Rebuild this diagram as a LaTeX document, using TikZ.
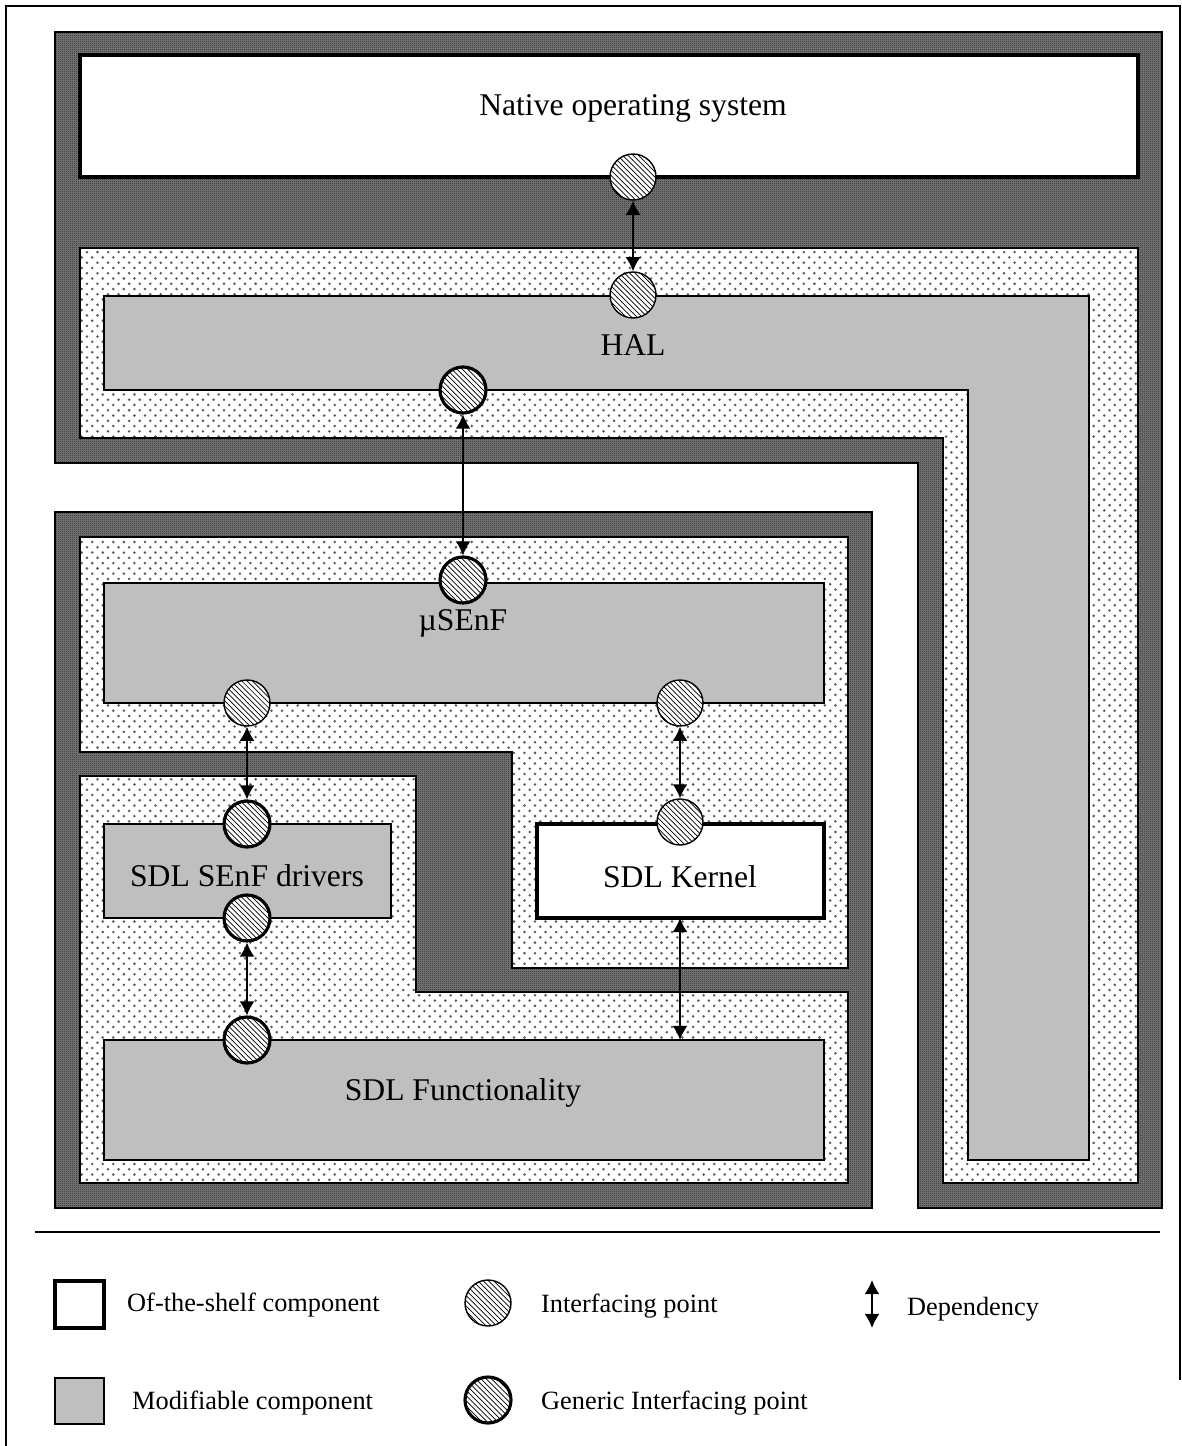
\documentclass[tikz,border=0pt]{standalone}
\usepackage{fontspec}
\setmainfont{Liberation Serif}
\usetikzlibrary{patterns,arrows.meta}

\pgfdeclarepatternformonly{darkmesh}{\pgfpointorigin}{\pgfqpoint{1.2pt}{1.2pt}}{\pgfqpoint{1.2pt}{1.2pt}}{%
  \pgfpathrectangle{\pgfpointorigin}{\pgfqpoint{0.6pt}{0.6pt}}%
  \pgfpathrectangle{\pgfqpoint{0.6pt}{0.6pt}}{\pgfqpoint{0.6pt}{0.6pt}}%
  \pgfusepath{fill}}
\pgfdeclarepatternformonly{sparsedots}{\pgfqpoint{-1pt}{-1pt}}{\pgfqpoint{7pt}{7pt}}{\pgfqpoint{6pt}{6pt}}{%
  \pgfpathcircle{\pgfqpoint{1.5pt}{1.5pt}}{0.8pt}%
  \pgfpathcircle{\pgfqpoint{4.5pt}{4.5pt}}{0.8pt}%
  \pgfusepath{fill}}

\tikzset{
  shell/.style={draw, line width=1.2pt, preaction={fill=black!52}, pattern=darkmesh, pattern color=black!85},
  layer/.style={draw, line width=0.9pt, preaction={fill=white}, pattern=sparsedots, pattern color=black!65},
  modbox/.style={draw, line width=0.6pt, fill=black!25},
  shelfbox/.style={draw, line width=2pt, fill=white},
  ipoint/.style={circle, draw, line width=0.8pt, minimum size=0.92cm, inner sep=0pt,
    preaction={fill=white}, pattern=north west lines},
  gpoint/.style={ipoint, line width=1.8pt},
  dep/.style={{Latex[length=8pt,width=8.5pt]}-{Latex[length=8pt,width=8.5pt]}, line width=1pt},
  lbl/.style={font=\fontsize{18}{20}\selectfont},
  legend/.style={font=\fontsize{15}{17}\selectfont, anchor=west}
}

\begin{document}
\begin{tikzpicture}[x=0.02cm, y=-0.02cm]
  \useasboundingbox (0,0) rectangle (1182,1446);
  \draw[line width=0.8pt] (6,1446) -- (6,6) -- (1180,6) -- (1180,1380);

  % upper block: OS and HAL
  \path[shell] (55,32) -- (1162,32) -- (1162,1208) -- (918,1208) -- (918,463) -- (55,463) -- cycle;
  \path[layer] (80,248) -- (1138,248) -- (1138,1183) -- (943,1183) -- (943,438) -- (80,438) -- cycle;
  \path[modbox] (104,296) -- (1089,296) -- (1089,1160) -- (968,1160) -- (968,390) -- (104,390) -- cycle;
  \path[shelfbox] (80,55) rectangle (1138,177);
  \node[lbl] (osText) at (633,108) {Native operating system};
  \node[lbl] (halText) at (633,345) {HAL};

  % lower block: SDL side
  \path[shell] (55,512) rectangle (872,1208);
  \path[layer] (80,537) -- (848,537) -- (848,968) -- (512,968) -- (512,752) -- (80,752) -- cycle;
  \path[layer] (80,776) -- (416,776) -- (416,992) -- (848,992) -- (848,1183) -- (80,1183) -- cycle;
  \path[modbox] (104,583) rectangle (824,703);
  \path[modbox] (104,824) rectangle (391,918);
  \path[shelfbox] (537,824) rectangle (824,918);
  \path[modbox] (104,1040) rectangle (824,1160);
  \node[lbl] (senfText) at (463,623) {µSEnF};
  \node[lbl] (drvText) at (247,876) {SDL SEnF drivers};
  \node[lbl] (kernText) at (680,877) {SDL Kernel};
  \node[lbl] (funcText) at (463,1093) {SDL Functionality};

  % interfacing points
  \node[ipoint] (osPt) at (633,177) {};
  \node[ipoint] (halTop) at (633,295) {};
  \node[gpoint] (halBot) at (463,390) {};
  \node[gpoint] (senfTop) at (463,580) {};
  \node[ipoint] (senfLeft) at (247,703) {};
  \node[ipoint] (senfRight) at (680,703) {};
  \node[gpoint] (drvTop) at (247,824) {};
  \node[ipoint] (kernTop) at (680,822) {};
  \node[gpoint] (drvBot) at (247,918) {};
  \node[gpoint] (funcPt) at (247,1040) {};
  \coordinate (kernBot) at (680,918);
  \coordinate (funcTop) at (680,1040);

  % dependencies
  \draw[dep] (osPt) -- (halTop);
  \draw[dep] (halBot) -- (senfTop);
  \draw[dep] (senfLeft) -- (drvTop);
  \draw[dep] (senfRight) -- (kernTop);
  \draw[dep] (drvBot) -- (funcPt);
  \draw[dep] (kernBot) -- (funcTop);

  % legend
  \draw[line width=0.9pt] (35,1232) -- (1160,1232);
  \path[shelfbox] (55,1281) rectangle (104,1328);
  \node[legend] (shelfText) at (121,1305) {Of-the-shelf component};
  \path[modbox] (55,1378) rectangle (104,1424);
  \node[legend] (modText) at (126,1403) {Modifiable component};
  \node[ipoint] (legIp) at (488,1303) {};
  \node[legend] (ipText) at (535,1306) {Interfacing point};
  \node[gpoint] (legGp) at (488,1400) {};
  \node[legend] (gpText) at (535,1403) {Generic Interfacing point};
  \coordinate (depTop) at (872,1280);
  \coordinate (depBot) at (872,1328);
  \draw[dep] (depTop) -- (depBot);
  \node[legend] (depText) at (901,1309) {Dependency};
\end{tikzpicture}
\end{document}
